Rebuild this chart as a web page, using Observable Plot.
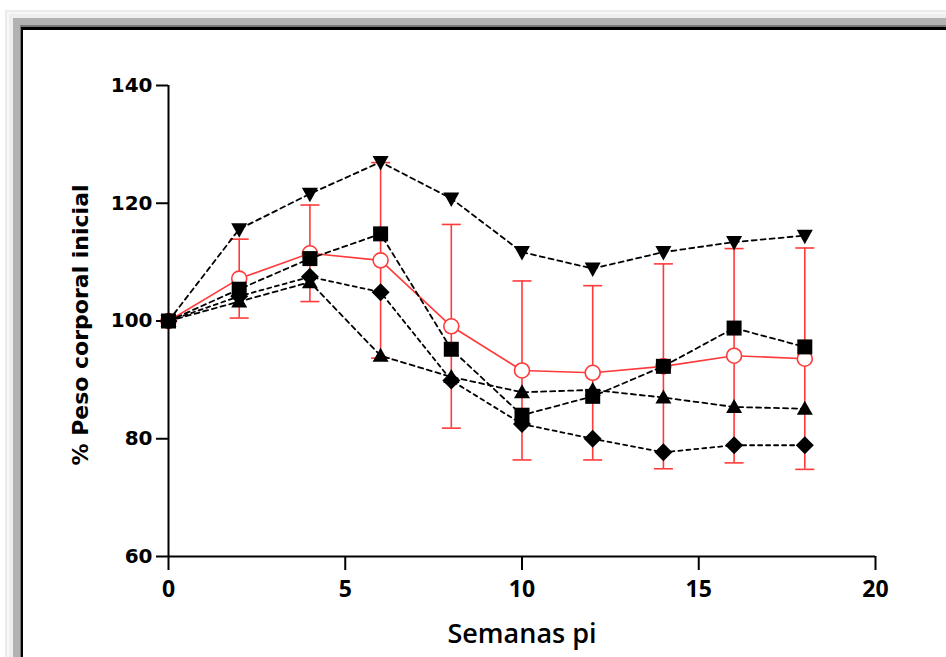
<!DOCTYPE html>
<html><head><meta charset="utf-8">
<script src="https://cdn.jsdelivr.net/npm/d3@7"></script>
<script src="https://cdn.jsdelivr.net/npm/@observablehq/plot@0.6"></script>
<style>
body{margin:0;background:#fff;}
#wrap{position:relative;width:946px;height:657px;overflow:hidden;background:#fff;}
.f{position:absolute;right:-20px;bottom:-20px;}
#chart{position:absolute;left:0;top:0;}
</style></head><body>
<div id="wrap">
<div class="f" style="left:5px;top:10px;background:#ececec"></div>
<div class="f" style="left:7px;top:12px;background:#f7f7f7"></div>
<div class="f" style="left:9px;top:14px;background:#eeeeee"></div>
<div class="f" style="left:13px;top:18px;background:#b2b2b2"></div>
<div class="f" style="left:20px;top:25px;background:#777"></div>
<div class="f" style="left:21px;top:27px;background:#000"></div>
<div class="f" style="left:23px;top:30px;background:#fff"></div>
<div id="chart"></div>
</div>
<script>
const weeks   = [0, 2, 4, 6, 8, 10, 12, 14, 16, 18];
const downTri = [100, 115.6, 121.6, 127.0, 120.8, 111.7, 108.9, 111.7, 113.4, 114.5];
const squares = [100, 105.4, 110.6, 114.8, 95.2, 84.0, 87.2, 92.3, 98.8, 95.6];
const upTri   = [100, 103.3, 106.6, 94.1, 90.5, 87.9, 88.3, 87.0, 85.4, 85.1];
const diamonds= [100, 104.2, 107.5, 104.9, 89.9, 82.5, 80.0, 77.7, 78.9, 78.9];
const meanVal = [100, 107.2, 111.5, 110.3, 99.1, 91.6, 91.2, 92.3, 94.1, 93.6];
const sdVal   = [0, 6.7, 8.2, 16.6, 17.3, 15.2, 14.8, 17.4, 18.2, 18.8];
const xTicks  = [0, 5, 10, 15, 20];
const yTicks  = [60, 80, 100, 120, 140];
const xLabel  = "Semanas pi";
const yLabel  = "% Peso corporal inicial";

const red = "#ff3a3a";
const sym = {
  square: {draw(c){const h=7.5; c.rect(-h,-h,2*h,2*h);}},
  down: {draw(c){c.moveTo(-8,-6); c.lineTo(8,-6); c.lineTo(0,8.5); c.closePath();}},
  up: {draw(c){c.moveTo(-8,6); c.lineTo(8,6); c.lineTo(0,-8); c.closePath();}},
  diamond: {draw(c){const h=9; c.moveTo(0,-h); c.lineTo(h,0); c.lineTo(0,h); c.lineTo(-h,0); c.closePath();}},
  cap: {draw(c){c.moveTo(-9.5,0); c.lineTo(9.5,0);}}
};

const stats = weeks.map((w,i)=>({week:w, mean:meanVal[i], sd:sdVal[i]}));
const withErr = stats.filter(d=>d.sd>0);
const seriesDefs = [
  {values: downTri, symbol: sym.down, dash: "5,4"},
  {values: squares, symbol: sym.square, dash: "5,4"},
  {values: upTri, symbol: sym.up, dash: "5,4"},
  {values: diamonds, symbol: sym.diamond, dash: "4,4"}
];

const blackMarks = [];
for (const s of seriesDefs) {
  const data = weeks.map((w,i)=>({week:w, v:s.values[i]}));
  blackMarks.push(Plot.line(data, {x:"week", y:"v", stroke:"black", strokeWidth:1.8, strokeDasharray:s.dash}));
}
for (const s of seriesDefs) {
  const data = weeks.map((w,i)=>({week:w, v:s.values[i]}));
  blackMarks.push(Plot.dot(data, {x:"week", y:"v", symbol:s.symbol, fill:"black", stroke:"none"}));
}

const font = "DejaVu Sans, Verdana, sans-serif";
const chart = Plot.plot({
  width: 946, height: 657,
  marginLeft: 168, marginRight: 71, marginTop: 85, marginBottom: 101,
  style: {background: "transparent", overflow: "visible"},
  x: {domain: [0, 20]},
  y: {domain: [60, 140]},
  marks: [
    Plot.ruleX([0], {stroke:"black", strokeWidth:2}),
    Plot.ruleY([60], {stroke:"black", strokeWidth:2}),
    Plot.axisY({ticks: yTicks, tickSize: 12, tickPadding: 4, strokeWidth: 2, fontSize: 20, fontWeight: "bold", fontFamily: font, label: null, fill: "black", stroke: "black"}),
    Plot.axisX({ticks: xTicks, tickSize: 14, tickPadding: 10, strokeWidth: 2, fontSize: 23, fontWeight: "bold", fontFamily: "Open Sans, sans-serif", label: null, fill: "black", stroke: "black"}),
    Plot.text([yLabel], {frameAnchor: "left", textAnchor: "middle", rotate: -90, dx: -88, dy: 4, fontSize: 22, fontWeight: "bold", fontFamily: font, fill: "black", lineAnchor: "middle"}),
    Plot.text([xLabel], {frameAnchor: "bottom", textAnchor: "middle", dy: 78, fontSize: 27, fontWeight: 600, fontFamily: "Open Sans, sans-serif", fill: "black", lineAnchor: "middle"}),
    Plot.ruleX(withErr, {x:"week", y1: d=>d.mean-d.sd, y2: d=>d.mean+d.sd, stroke: red, strokeWidth: 1.6}),
    Plot.dot(withErr, {x:"week", y: d=>d.mean-d.sd, symbol: sym.cap, stroke: red, strokeWidth: 1.6, fill: "none"}),
    Plot.dot(withErr, {x:"week", y: d=>d.mean+d.sd, symbol: sym.cap, stroke: red, strokeWidth: 1.6, fill: "none"}),
    Plot.line(stats, {x:"week", y:"mean", stroke: red, strokeWidth: 1.6}),
    Plot.dot(stats, {x:"week", y:"mean", r: 7.5, stroke: red, fill: "white", strokeWidth: 1.6}),
    ...blackMarks
  ]
});
document.getElementById("chart").appendChild(chart);
</script>
</body></html>
